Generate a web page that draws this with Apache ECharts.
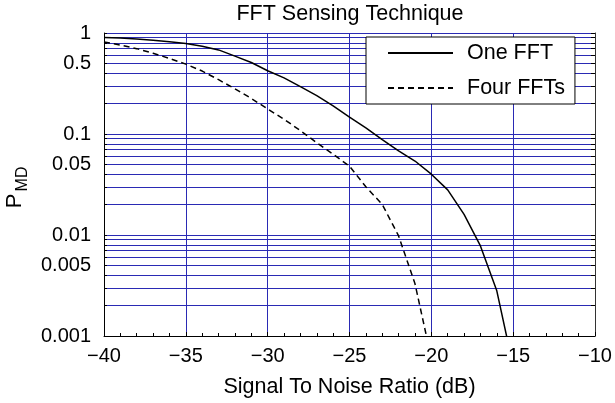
<!DOCTYPE html>
<html>
<head>
<meta charset="utf-8">
<script src="https://cdn.jsdelivr.net/npm/echarts@6/dist/echarts.min.js"></script>
<style>
  html, body { margin: 0; padding: 0; background: #fff; }
  #chart { width: 615px; height: 403px; }
</style>
</head>
<body>
<div id="chart"></div>
<script>
// 信噪比 (dB)
const snrOne = [-40, -39, -38, -37, -36, -35, -34, -33, -32, -31, -30, -29, -28,
  -27, -26, -25, -24, -23, -22, -21, -20, -19, -18, -17, -16, -15]
const oneFFT = [0.90, 0.89, 0.87, 0.85, 0.82, 0.787, 0.74, 0.68, 0.59, 0.51, 0.423, 0.36, 0.294,
  0.24, 0.19, 0.147, 0.115, 0.088, 0.068, 0.054, 0.040, 0.028, 0.016, 0.0078, 0.0028, 0.0005]

const snrFour = [-40, -39, -38, -37, -36, -35, -34, -33, -32, -31, -30, -29, -28,
  -27, -26, -25, -24, -23, -22, -21, -20]
const fourFFTs = [0.815, 0.76, 0.70, 0.63, 0.56, 0.492, 0.42, 0.345, 0.28, 0.225, 0.177, 0.14, 0.108,
  0.082, 0.063, 0.048, 0.030, 0.0201, 0.0098, 0.0033, 0.0006]

// 纵轴标签和网格线
const yLabels = [0.001, 0.005, 0.01, 0.05, 0.1, 0.5, 1]
const yGrid = [0.001, 0.002, 0.003, 0.004, 0.005, 0.006, 0.007, 0.008, 0.009,
  0.01, 0.02, 0.03, 0.04, 0.05, 0.06, 0.07, 0.08, 0.09,
  0.1, 0.2, 0.3, 0.4, 0.5, 0.6, 0.7, 0.8, 0.9, 1]

const font = 'Liberation Sans, Arial, sans-serif'
const navy = '#2a2ab4'

const chart = echarts.init(document.getElementById('chart'))

chart.setOption({
  animation: false,
  backgroundColor: '#fff',
  textStyle: { fontFamily: font },
  title: {
    text: 'FFT Sensing Technique',
    left: 350,
    top: 3,
    padding: 0,
    textAlign: 'center',
    textStyle: { fontFamily: font, fontSize: 21.5, fontWeight: 'normal', color: '#000' }
  },
  grid: { left: 104, right: 20, top: 33, bottom: 66 },
  legend: {
    orient: 'vertical',
    left: 366,
    top: 37,
    padding: [5, 10, 5, 21],
    itemWidth: 65,
    itemHeight: 14,
    itemGap: 13,
    backgroundColor: '#fff',
    borderColor: '#000',
    borderWidth: 1,
    borderRadius: 0,
    itemStyle: { opacity: 0 }, // 图例只画线，不画点
    textStyle: { fontFamily: font, fontSize: 21.5, lineHeight: 22, color: '#000', padding: [0, 0, 0, 9] },
    data: ['One FFT', 'Four FFTs']
  },
  xAxis: {
    type: 'value',
    min: -40,
    max: -10,
    interval: 5,
    name: 'Signal To Noise Ratio (dB)',
    nameLocation: 'middle',
    nameGap: 40,
    nameTextStyle: { fontFamily: font, fontSize: 21.5, color: '#000' },
    axisLine: { lineStyle: { color: '#000', width: 1 } },
    axisTick: { inside: true, length: 4, lineStyle: { color: '#000' } },
    minorTick: { show: true, splitNumber: 5, length: 3, lineStyle: { color: '#000' } },
    axisLabel: {
      margin: 10,
      fontFamily: font,
      fontSize: 20,
      color: '#000',
      formatter: v => String(v).replace('-', '\u2212')
    },
    splitLine: { show: true, lineStyle: { color: navy, width: 1, opacity: 1 } }
  },
  yAxis: [
    {
      type: 'log',
      logBase: 10,
      min: 0.001,
      max: 1,
      axisLine: { show: true, lineStyle: { color: '#000', width: 1 } },
      axisTick: { show: true, inside: true, length: 3, customValues: yGrid, lineStyle: { color: '#000' } },
      axisLabel: {
        margin: 13,
        fontFamily: font,
        fontSize: 20,
        color: '#000',
        customValues: yLabels,
        formatter: v => String(Number(Number(v).toPrecision(2)))
      },
      splitLine: { show: true, lineStyle: { color: navy, width: 1, opacity: 1 } }
    },
    {
      // 右边框和刻度
      type: 'log',
      logBase: 10,
      min: 0.001,
      max: 1,
      position: 'right',
      axisLine: { show: true, lineStyle: { color: '#333', width: 1 } },
      axisTick: { show: true, inside: true, length: 4, customValues: yGrid, lineStyle: { color: '#000' } },
      axisLabel: { show: false },
      splitLine: { show: false }
    }
  ],
  series: [
    {
      name: 'One FFT',
      type: 'line',
      symbol: 'none',
      clip: true,
      lineStyle: { color: '#000', width: 1.5, type: 'solid' },
      itemStyle: { color: '#000' },
      data: snrOne.map((x, i) => [x, oneFFT[i]])
    },
    {
      name: 'Four FFTs',
      type: 'line',
      symbol: 'none',
      clip: true,
      lineStyle: { color: '#000', width: 1.5, type: [6, 4] },
      itemStyle: { color: '#000' },
      data: snrFour.map((x, i) => [x, fourFFTs[i]])
    }
  ],
  graphic: [
    {
      type: 'text',
      x: 15,
      y: 201,
      rotation: Math.PI / 2,
      style: { text: 'P', font: '22px ' + font, fill: '#000', textAlign: 'center', textVerticalAlign: 'middle' }
    },
    {
      type: 'text',
      x: 23,
      y: 179,
      rotation: Math.PI / 2,
      style: { text: 'MD', font: '16px ' + font, fill: '#000', textAlign: 'center', textVerticalAlign: 'middle' }
    }
  ]
})
</script>
</body>
</html>
